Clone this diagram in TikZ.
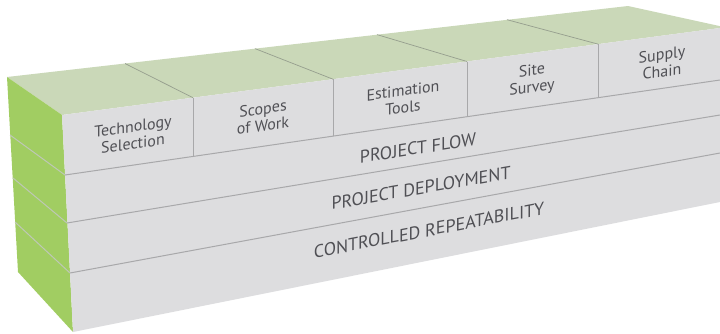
\documentclass[tikz,border=0pt]{standalone}
\usepackage{fontspec}
\setmainfont{PT Sans}

\definecolor{topgreen}{RGB}{202,216,184}
\definecolor{sidegreen}{RGB}{161,205,98}
\definecolor{frontgray}{RGB}{221,221,223}
\definecolor{bandgray}{RGB}{168,168,170}
\definecolor{sidegray}{RGB}{190,200,182}
\definecolor{topgray}{RGB}{150,158,142}
\definecolor{textgray}{RGB}{80,80,85}

\tikzset{
  boxtext/.style={text=textgray, align=center, transform shape,
    font=\fontsize{16}{17}\selectfont},
  bandtext/.style={text=textgray, transform shape,
    font=\fontsize{18}{20}\selectfont},
  bandline/.style={draw=bandgray, line width=1pt},
  sideline/.style={draw=sidegray, line width=1pt},
  topline/.style={draw=topgray, line width=0.7pt}
}

\begin{document}
\begin{tikzpicture}[x=1pt,y=-1pt]
  \useasboundingbox (0,0) rectangle (720,333);
  \clip (0,0) rectangle (720,333);

  % corners of the block
  \coordinate (backleft) at (7,77);
  \coordinate (backright) at (628,6);
  \coordinate (topleft) at (62,115);
  \coordinate (topright) at (720,28);
  \coordinate (botleft) at (73,332);
  \coordinate (botright) at (720,202);
  \coordinate (backbot) at (18,272);

  % faces
  \fill[topgreen] (backleft) -- (backright) -- (724,27) -- (topright) -- (topleft) -- cycle;
  \fill[sidegreen] (backleft) -- (topleft) -- (botleft) -- (backbot) -- cycle;
  \fill[frontgray] (topleft) -- (topright) -- (botright) -- (botleft) -- cycle;

  % layers
  \coordinate (flowleft) at (65,175);
  \coordinate (flowright) at (720,80);
  \coordinate (deployleft) at (67,223);
  \coordinate (deployright) at (720,115);
  \coordinate (repleft) at (70,273);
  \coordinate (repright) at (720,153);
  \coordinate (side1) at (10,135);
  \coordinate (side2) at (13,178);
  \coordinate (side3) at (15,222);

  \draw[sideline] (side1) -- (flowleft);
  \draw[sideline] (side2) -- (deployleft);
  \draw[sideline] (side3) -- (repleft);
  \draw[bandline] (flowleft) -- (flowright);
  \draw[bandline] (deployleft) -- (deployright);
  \draw[bandline] (repleft) -- (repright);

  % boxes on top
  \coordinate (div1top) at (193,97.7);
  \coordinate (div2top) at (333,79.2);
  \coordinate (div3top) at (467,61.5);
  \coordinate (div4top) at (598,44.1);
  \coordinate (div1bot) at (193,156.4);
  \coordinate (div2bot) at (333,136.1);
  \coordinate (div3bot) at (467,116.7);
  \coordinate (div4bot) at (598,97.7);
  \coordinate (div1back) at (125,63.5);
  \coordinate (div2back) at (255,48.6);
  \coordinate (div3back) at (377,34.6);
  \coordinate (div4back) at (507,19.7);

  \draw[bandline] (div1top) -- (div1bot);
  \draw[bandline] (div2top) -- (div2bot);
  \draw[bandline] (div3top) -- (div3bot);
  \draw[bandline] (div4top) -- (div4bot);
  \draw[topline] (div1top) -- (div1back);
  \draw[topline] (div2top) -- (div2back);
  \draw[topline] (div3top) -- (div3back);
  \draw[topline] (div4top) -- (div4back);

  % labels
  \node (tech) at (133,135) [boxtext, yslant=0.138] {Technology\\Selection};
  \node (scopes) at (263,117) [boxtext, yslant=0.138] {Scopes\\of Work};
  \node (estim) at (403,99) [boxtext, yslant=0.138] {Estimation\\Tools};
  \node (site) at (532,80) [boxtext, yslant=0.138] {Site\\Survey};
  \node (supply) at (662,63) [boxtext, yslant=0.138] {Supply\\Chain};
  \node (flow) at (418,148) [bandtext, yslant=0.155] {PROJECT FLOW};
  \node (deploy) at (421,188) [bandtext, yslant=0.174] {PROJECT DEPLOYMENT};
  \node (repeatability) at (429,230) [bandtext, yslant=0.192] {CONTROLLED REPEATABILITY};
\end{tikzpicture}
\end{document}
